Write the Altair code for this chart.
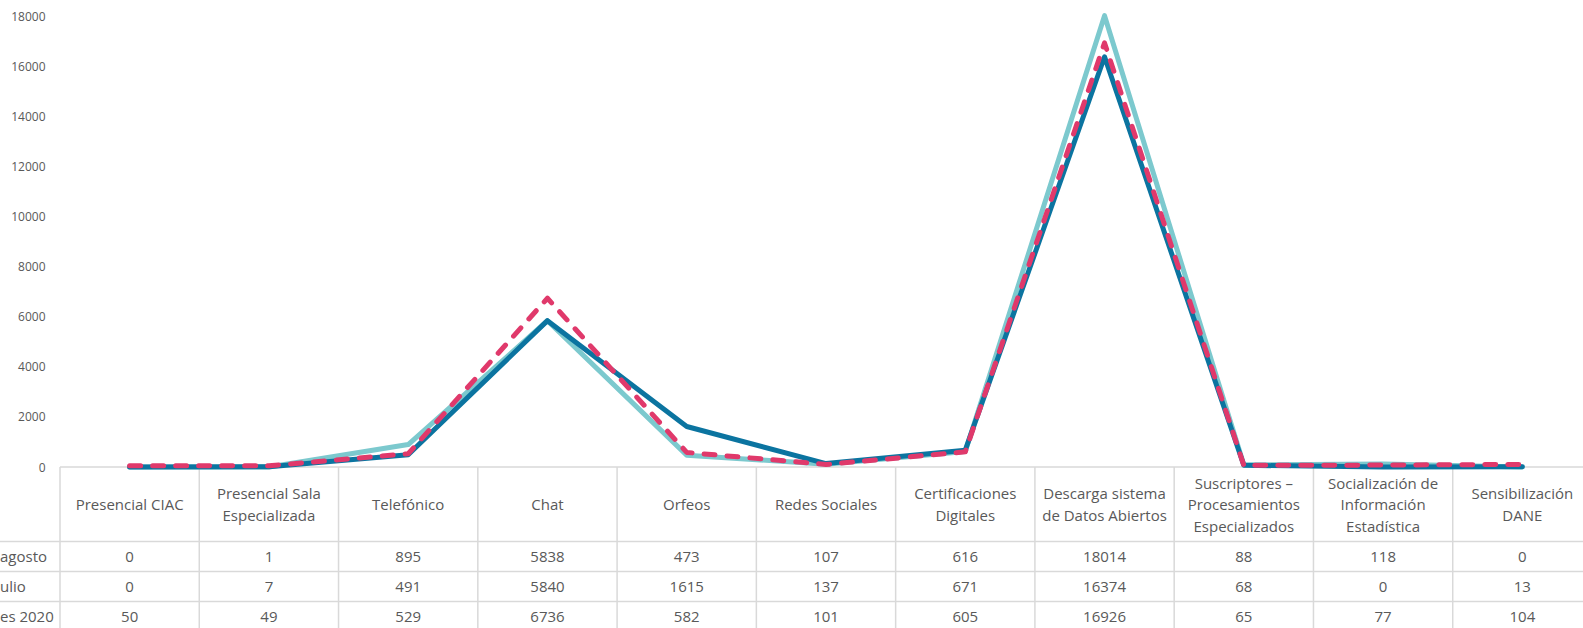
import altair as alt
import pandas as pd

categories = [
    "Presencial CIAC",
    "Presencial Sala\nEspecializada",
    "Telefónico",
    "Chat",
    "Orfeos",
    "Redes Sociales",
    "Certificaciones\nDigitales",
    "Descarga sistema\nde Datos Abiertos",
    "Suscriptores –\nProcesamientos\nEspecializados",
    "Socialización de\nInformación\nEstadística",
    "Sensibilización\nDANE",
]
series_names = ["agosto", "ulio", "es 2020"]
agosto = [0, 1, 895, 5838, 473, 107, 616, 18014, 88, 118, 0]
julio = [0, 7, 491, 5840, 1615, 137, 671, 16374, 68, 0, 13]
mes_2020 = [50, 49, 529, 6736, 582, 101, 605, 16926, 65, 77, 104]
y_ticks = [0, 2000, 4000, 6000, 8000, 10000, 12000, 14000, 16000, 18000]

records = []
for s, vals in zip(series_names, [agosto, julio, mes_2020]):
    for c, v in zip(categories, vals):
        records.append({"cat": c, "series": s, "value": v})
df = pd.DataFrame(records)
cat_df = pd.DataFrame({"cat": categories})
row_df = pd.DataFrame({"series": series_names})

FONT = "Open Sans"
GRAY = "#595959"
GRID = "#d9d9d9"
FS = 15
LH = 21.5

x_scale = alt.Scale(type="band", domain=categories, range=[0, 1532], paddingInner=0, paddingOuter=0)
row_scale = alt.Scale(type="band", domain=series_names, range=[525.5, 615.5], paddingInner=0, paddingOuter=0)
y_line = alt.Y(
    "value:Q",
    scale=alt.Scale(domain=[0, 18000], nice=False),
    axis=alt.Axis(values=y_ticks, format="d", grid=False, domain=False, ticks=False, labelPadding=15,
                  labelColor=GRAY, labelFontSize=12, labelFont=FONT, title=None),
)


def xenc(**kw):
    return alt.X("cat:N", scale=x_scale, axis=None, **kw)


base = alt.Chart(df)

styles = [
    ("agosto", "#7cc9ce", None),
    ("ulio", "#0b74a0", None),
    ("es 2020", "#e0396b", [11, 12]),
]
line_layers = []
for name, color, dash in styles:
    kw = dict(color=color, strokeWidth=5, strokeJoin="round", strokeCap="round")
    if dash:
        kw["strokeDash"] = dash
    line_layers.append(
        base.transform_filter(alt.datum.series == name).mark_line(**kw).encode(x=xenc(), y=y_line)
    )
lines = alt.layer(*line_layers)

# table borders
top_border = alt.Chart(cat_df.head(1)).mark_rule(color=GRID, strokeWidth=1.5).encode(
    x=alt.value(0), x2=alt.value(1532), y=alt.value(451)
)
v_borders = alt.Chart(cat_df).mark_rule(color=GRID, strokeWidth=1.5).encode(
    x=xenc(bandPosition=0), y=alt.value(451), y2=alt.value(620)
)
h_borders = alt.Chart(row_df).mark_rule(color=GRID, strokeWidth=1.5).encode(
    y=alt.Y("series:N", scale=row_scale, axis=None, bandPosition=0),
    x=alt.value(-60), x2=alt.value(1532),
)

# header: vertically centre each multi-line label in the header row (centre at 489 px)
header = alt.Chart(cat_df).transform_calculate(
    nlines="length(split(datum.cat, '\\n'))",
).transform_calculate(
    ty=f"489 - (datum.nlines - 1) * {LH / 2}",
).mark_text(
    lineBreak="\n", lineHeight=LH, fontSize=FS, font=FONT, color=GRAY, baseline="middle", align="center"
).encode(x=xenc(), y=alt.Y("ty:Q", scale=None, axis=None), text="cat:N")

cells = base.mark_text(fontSize=FS, font=FONT, color=GRAY, baseline="middle", align="center").encode(
    x=xenc(),
    y=alt.Y("series:N", scale=row_scale, axis=None),
    text="value:Q",
)

row_labels = alt.Chart(row_df).mark_text(fontSize=FS, font=FONT, color=GRAY, baseline="middle", align="left").encode(
    x=alt.value(-60),
    y=alt.Y("series:N", scale=row_scale, axis=None),
    text="series:N",
)

table = alt.layer(top_border, v_borders, h_borders, cells, row_labels)

chart = alt.layer(
    table, header, lines
).resolve_scale(y="independent").properties(
    width=1523,
    height=451,
    autosize=alt.AutoSizeParams(type="none"),
    padding={"left": 60, "top": 16, "right": 0, "bottom": 161},
    background="white",
).configure_view(stroke=None)

chart.save("out.html", embed_options={"renderer": "svg", "actions": False})
